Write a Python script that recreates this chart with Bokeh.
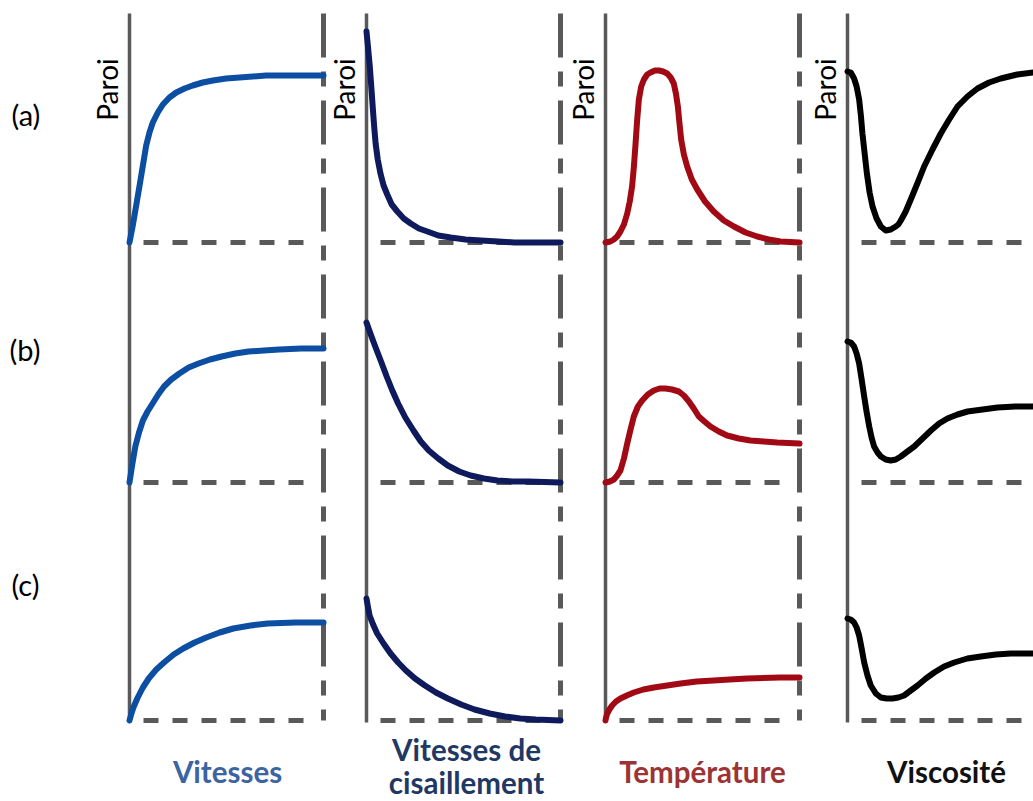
from bokeh.plotting import figure
from bokeh.models import Range1d, ColumnDataSource
from bokeh.core.properties import value
from bokeh.embed import file_html
from bokeh.resources import INLINE
import math

# ---------------- data (x as fraction of panel width, h = height above baseline in px) ----------------
rows = ["(a)", "(b)", "(c)"]
columns = ["Vitesses", "Vitesses de cisaillement", "Température", "Viscosité"]

vit_a_x = [0, 0.017, 0.052, 0.069, 0.086, 0.103, 0.120, 0.146, 0.172, 0.206, 0.241, 0.284,
           0.326, 0.378, 0.430, 0.498, 0.567, 0.704, 0.842, 1.0]
vit_a_h = [0, 17, 57, 77, 97, 110, 120, 130, 138, 145, 150, 154, 157, 160, 162, 164, 165, 167, 167, 167]
vit_b_x = [0, 0.015, 0.030, 0.049, 0.069, 0.093, 0.119, 0.148, 0.178, 0.215, 0.257, 0.305,
           0.356, 0.415, 0.475, 0.545, 0.614, 0.693, 0.772, 0.886, 1.0]
vit_b_h = [0, 19, 36, 50, 62, 71, 79, 88, 96, 103, 109, 115, 119, 123, 126, 129, 131, 132, 133, 134, 134]
vit_c_x = [0, 0.010, 0.020, 0.040, 0.069, 0.099, 0.138, 0.178, 0.228, 0.277, 0.336, 0.396,
           0.465, 0.535, 0.624, 0.713, 0.856, 1.0]
vit_c_h = [0, 7, 13, 22, 33, 42, 51, 58, 66, 72, 78, 83, 88, 92, 95, 97, 98, 98]

cis_a_x = [0, 0.008, 0.017, 0.025, 0.033, 0.040, 0.047, 0.058, 0.072, 0.088, 0.107, 0.130,
           0.159, 0.192, 0.228, 0.270, 0.314, 0.370, 0.434, 0.510, 0.590, 0.680, 0.762, 1.0]
cis_a_h = [211, 195, 176, 155, 133, 115, 99, 83, 69, 57, 48, 38, 31, 24, 19, 14, 11, 7, 5, 3, 2, 1, 0, 0]
cis_b_x = [0, 0.022, 0.045, 0.075, 0.104, 0.133, 0.163, 0.200, 0.242, 0.280, 0.321, 0.370,
           0.419, 0.478, 0.537, 0.605, 0.675, 0.754, 0.833, 1.0]
cis_b_h = [160, 148, 136, 121, 106, 92, 79, 65, 52, 41, 32, 24, 17, 11, 7, 4, 2, 1, 1, 0]
cis_c_x = [0, 0.008, 0.016, 0.034, 0.055, 0.088, 0.124, 0.163, 0.203, 0.250, 0.301, 0.358,
           0.419, 0.488, 0.557, 0.635, 0.714, 0.793, 0.872, 1.0]
cis_c_h = [122, 113, 105, 96, 87, 77, 67, 58, 50, 42, 35, 28, 22, 16, 11, 7, 4, 2, 1, 0]

tem_a_x = [0, 0.025, 0.043, 0.060, 0.077, 0.095, 0.112, 0.125, 0.137, 0.146, 0.155, 0.163,
           0.172, 0.184, 0.198, 0.215, 0.232, 0.255, 0.275, 0.297, 0.318, 0.336, 0.352, 0.363,
           0.373, 0.381, 0.390, 0.404, 0.421, 0.445, 0.473, 0.513, 0.558, 0.610, 0.662, 0.722,
           0.782, 0.842, 0.902, 1.0]
tem_a_h = [0, 1, 3, 6, 11, 18, 29, 41, 56, 75, 99, 122, 143, 156, 163, 168, 170, 172, 172, 171,
           169, 165, 159, 149, 136, 120, 103, 88, 76, 63, 53, 41, 31, 22, 16, 10, 6, 3, 1, 0]
tem_b_x = [0, 0.022, 0.043, 0.060, 0.077, 0.095, 0.112, 0.129, 0.146, 0.167, 0.189, 0.218,
           0.249, 0.279, 0.309, 0.343, 0.378, 0.404, 0.430, 0.455, 0.481, 0.510, 0.541, 0.584,
           0.627, 0.687, 0.747, 0.816, 0.885, 1.0]
tem_b_h = [0, 1, 3, 7, 12, 24, 39, 53, 66, 76, 82, 88, 92, 94, 94, 93, 91, 87, 81, 74, 66, 61,
           56, 51, 47, 44, 42, 41, 40, 39]
tem_c_x = [0, 0.003, 0.009, 0.020, 0.034, 0.054, 0.077, 0.110, 0.146, 0.195, 0.249, 0.318,
           0.387, 0.470, 0.558, 0.640, 0.730, 0.902, 1.0]
tem_c_h = [0, 3, 7, 11, 15, 19, 22, 25, 28, 31, 33, 35, 37, 39, 40, 41, 42, 43, 43]

vis_a_x = [0, 0.017, 0.034, 0.047, 0.060, 0.069, 0.077, 0.089, 0.100, 0.114, 0.129, 0.150,
           0.172, 0.197, 0.223, 0.249, 0.262, 0.275, 0.300, 0.326, 0.360, 0.395, 0.438, 0.481,
           0.524, 0.567, 0.618, 0.670, 0.730, 0.790, 0.875, 0.960, 1.0]
vis_a_h = [171, 170, 164, 156, 143, 127, 109, 88, 69, 50, 36, 24, 16, 12, 13, 16, 18, 22, 31,
           43, 59, 76, 93, 109, 123, 136, 146, 154, 160, 164, 168, 170, 171]
vis_b_x = [0, 0.017, 0.034, 0.047, 0.060, 0.073, 0.086, 0.099, 0.112, 0.124, 0.137, 0.155,
           0.172, 0.197, 0.223, 0.249, 0.275, 0.309, 0.344, 0.387, 0.430, 0.472, 0.515, 0.567,
           0.619, 0.696, 0.773, 0.866, 0.960, 1.0]
vis_b_h = [141, 140, 136, 129, 119, 103, 86, 70, 56, 45, 36, 30, 26, 23, 22, 23, 26, 31, 36,
           44, 52, 59, 64, 68, 71, 73, 75, 76, 76, 76]
vis_c_x = [0, 0.017, 0.034, 0.047, 0.060, 0.073, 0.086, 0.103, 0.120, 0.146, 0.172, 0.202,
           0.232, 0.262, 0.292, 0.326, 0.361, 0.404, 0.447, 0.498, 0.550, 0.618, 0.687, 0.765,
           0.842, 0.960, 1.0]
vis_c_h = [102, 101, 98, 93, 85, 72, 58, 45, 35, 27, 23, 22, 22, 23, 25, 30, 35, 42, 48, 54,
           58, 62, 64, 66, 67, 67, 67]

# ---------------- layout / style ----------------
W, H = 1033, 801
WALLS = [129, 366, 605, 847]
PANEL_W = 194
BASES = [242, 482, 720]
TOP = 13
GRAY = "#595959"
CURVE_COLORS = ["#0B4EA2", "#0E1A5C", "#A10A14", "#000000"]
LABEL_COLORS = ["#3B64A0", "#1F3864", "#9C3334", "#111111"]
FONT = "Lato"

p = figure(width=W, height=H, x_range=Range1d(0, W), y_range=Range1d(H, 0),
           output_backend="svg", toolbar_location=None, min_border=0,
           x_axis_location=None, y_axis_location=None)
p.grid.visible = False
p.outline_line_color = None
p.background_fill_color = "white"
p.border_fill_color = "white"

# walls (solid)
p.segment(x0=WALLS, y0=[TOP] * 4, x1=WALLS, y1=[BASES[-1] + 2] * 4,
          line_color=GRAY, line_width=3.5)
# right side (dash-dot)
rights = [w + PANEL_W for w in WALLS]
p.segment(x0=rights, y0=[TOP] * 4, x1=rights, y1=[BASES[-1]] * 4,
          line_color=GRAY, line_width=5, line_dash="44 14 15 14")
# horizontal dashed baselines
hx0, hx1, hy = [], [], []
for ci, w in enumerate(WALLS):
    for b in BASES:
        hx0.append(w + 14)
        hx1.append(w + 180 if ci < 3 else W)
        hy.append(b)
p.segment(x0=hx0, y0=hy, x1=hx1, y1=hy, line_color=GRAY, line_width=5, line_dash="15 14")

# curves
series = [
    [(vit_a_x, vit_a_h), (vit_b_x, vit_b_h), (vit_c_x, vit_c_h)],
    [(cis_a_x, cis_a_h), (cis_b_x, cis_b_h), (cis_c_x, cis_c_h)],
    [(tem_a_x, tem_a_h), (tem_b_x, tem_b_h), (tem_c_x, tem_c_h)],
    [(vis_a_x, vis_a_h), (vis_b_x, vis_b_h), (vis_c_x, vis_c_h)],
]
for ci, col in enumerate(series):
    for ri, (xs, hs) in enumerate(col):
        px = [WALLS[ci] + f * PANEL_W for f in xs]
        py = [BASES[ri] - h for h in hs]
        p.line(px, py, line_color=CURVE_COLORS[ci], line_width=6,
               line_cap="round", line_join="round")

# "Paroi" labels
p.text(x=[w - 23 for w in WALLS], y=[89] * 4, text=["Paroi"] * 4, angle=math.pi / 2,
       text_font=value(FONT), text_font_size="28px", text_color="black",
       text_align="center", text_baseline="alphabetic")

# row labels
p.text(x=[11, 9, 11], y=[114, 349, 584], text=rows,
       text_font=value(FONT), text_font_size="29px", text_color="black",
       text_align="left", text_baseline="middle")

# column labels
lab_x, lab_y, lab_t, lab_c = [], [], [], []
label_centers = [227, 466, 702, 946]
for ci, name in enumerate(columns):
    words = name.split(" ")
    if len(words) > 2:
        lines = [" ".join(words[:2]), " ".join(words[2:])]
        ys = [749, 782]
    else:
        lines = [name]
        ys = [771]
    for t, y in zip(lines, ys):
        lab_x.append(label_centers[ci]); lab_y.append(y); lab_t.append(t); lab_c.append(LABEL_COLORS[ci])
src = ColumnDataSource(dict(x=lab_x, y=lab_y, text=lab_t, color=lab_c))
p.text(x="x", y="y", text="text", text_color="color", source=src,
       text_font=value(FONT), text_font_style="bold", text_font_size="29.5px",
       text_align="center", text_baseline="middle")

open("out.html", "w").write(file_html(p, INLINE))
